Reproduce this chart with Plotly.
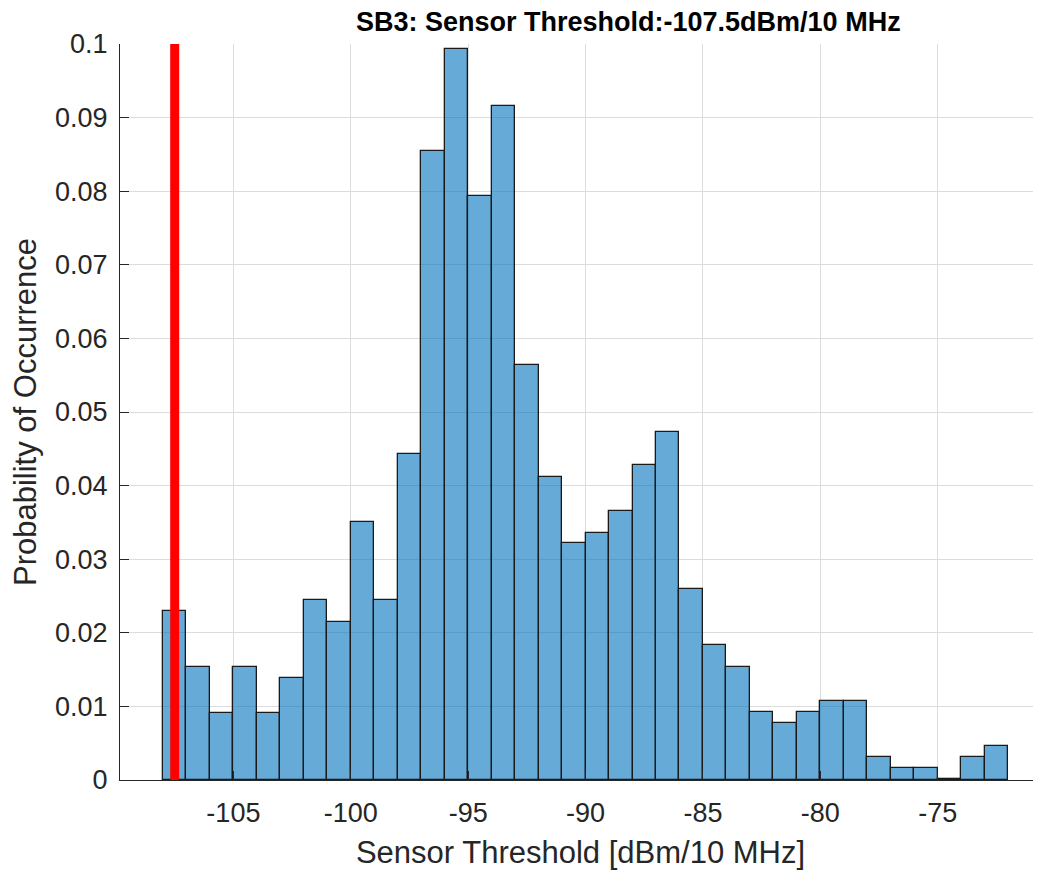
import numpy as np
import plotly.graph_objects as go

# Histogram data (bin width 1 dB)
bin_left_edges = list(range(-108, -72))
probabilities = [
    0.0230, 0.0153, 0.0091, 0.0153, 0.0091, 0.0138, 0.0245, 0.0215, 0.0351, 0.0245,
    0.0443, 0.0854, 0.0993, 0.0794, 0.0916, 0.0564, 0.0412, 0.0322, 0.0336, 0.0366,
    0.0428, 0.0473, 0.0260, 0.0183, 0.0153, 0.0092, 0.0077, 0.0092, 0.0108, 0.0108,
    0.0031, 0.0016, 0.0016, 0.0002, 0.0031, 0.0046,
]
bin_width = 1.0
threshold = -107.5
x_ticks = [-105, -100, -95, -90, -85, -80, -75]
x_tick_labels = ["-105", "-100", "-95", "-90", "-85", "-80", "-75"]
y_ticks = [0, 0.01, 0.02, 0.03, 0.04, 0.05, 0.06, 0.07, 0.08, 0.09, 0.1]
y_tick_labels = ["0", "0.01", "0.02", "0.03", "0.04", "0.05", "0.06", "0.07", "0.08", "0.09", "0.1"]

centers = np.array(bin_left_edges) + bin_width / 2

FONT = "Liberation Sans, Arial, Helvetica, sans-serif"
AX = "#262626"

fig = go.Figure()
fig.add_trace(go.Bar(
    x=centers, y=probabilities, width=bin_width,
    marker=dict(color="rgba(0,114,189,0.6)", line=dict(color="#1a1a1a", width=1.3)),
    showlegend=False, hoverinfo="x+y",
))
fig.add_trace(go.Scatter(
    x=[threshold, threshold], y=[0, 0.1], mode="lines",
    line=dict(color="#ff0000", width=9), showlegend=False, cliponaxis=False,
))

fig.update_layout(
    width=1033, height=865,
    margin=dict(l=112, r=0, t=36, b=93, autoexpand=False),
    paper_bgcolor="white", plot_bgcolor="white",
    font=dict(family=FONT, color=AX),
    bargap=0,
    annotations=[
        dict(text="<b>SB3: Sensor Threshold:-107.5dBm/10 MHz</b>", xref="paper", yref="paper",
             x=0.5516, y=1, yshift=22, xanchor="center", yanchor="middle", showarrow=False,
             borderpad=0, font=dict(size=27, color="black", family=FONT)),
    ],
)
fig.update_xaxes(
    range=[-109.83, -70.6], tickvals=x_ticks, ticktext=x_tick_labels, tickmode="array", automargin=False,
    ticks="inside", ticklen=9, tickcolor=AX, tickwidth=1, ticklabelstandoff=8,
    showline=True, linecolor=AX, linewidth=1.3, mirror=False,
    showgrid=True, gridcolor="#dcdcdc", gridwidth=1, zeroline=False,
    tickfont=dict(size=27, color=AX, family=FONT),
    title=dict(text="Sensor Threshold [dBm/10 MHz]", font=dict(size=31, color=AX, family=FONT), standoff=14),
)
fig.update_yaxes(
    range=[0, 0.1], tickvals=y_ticks, ticktext=y_tick_labels, tickmode="array", automargin=False,
    ticks="inside", ticklen=9, tickcolor=AX, tickwidth=1, ticklabelstandoff=6,
    showline=True, linecolor=AX, linewidth=1.3, mirror=False,
    showgrid=True, gridcolor="#dcdcdc", gridwidth=1, zeroline=False,
    tickfont=dict(size=27, color=AX, family=FONT),
    title=dict(text="Probability of Occurrence", font=dict(size=31, color=AX, family=FONT), standoff=12),
)

fig.write_html("out.html")
